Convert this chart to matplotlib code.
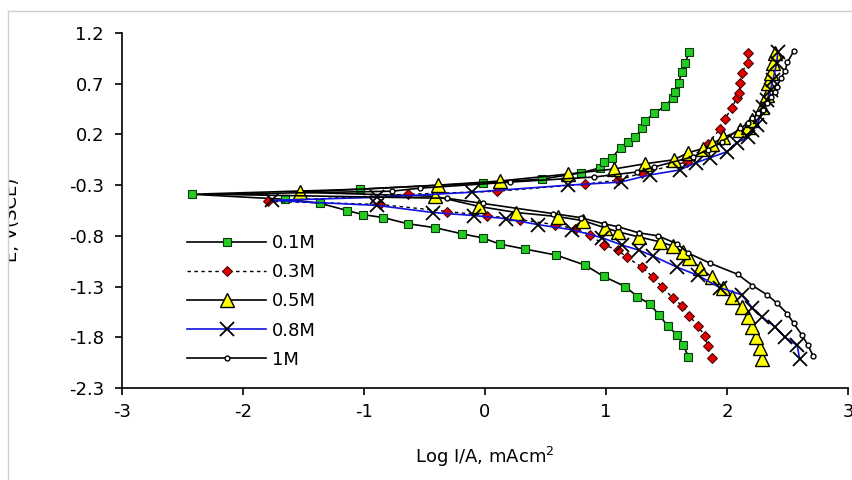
import matplotlib
matplotlib.use("Agg")
import matplotlib.pyplot as plt
from matplotlib.lines import Line2D
from matplotlib.patches import Rectangle

plt.rcParams['font.family'] = ['DejaVu Sans']

labels = ["0.1M", "0.3M", "0.5M", "0.8M", "1M"]

# each series: cathodic branch (bottom -> Ecorr) followed by anodic branch (Ecorr -> top)
x_01 = [1.68, 1.64, 1.59, 1.51, 1.44, 1.36, 1.26, 1.16, 0.98, 0.83, 0.59, 0.33, 0.12, -0.02, -0.19,
        -0.41, -0.64, -0.84, -1.01, -1.14, -1.36, -1.65, -2.42,
        -1.03, -0.02, 0.47, 0.79, 0.95, 0.98, 1.05, 1.12, 1.18, 1.24, 1.30, 1.32, 1.40, 1.49, 1.55,
        1.57, 1.60, 1.63, 1.65, 1.69]
y_01 = [-1.99, -1.88, -1.78, -1.69, -1.58, -1.47, -1.40, -1.30, -1.20, -1.09, -0.99, -0.93, -0.88, -0.82, -0.78,
        -0.72, -0.68, -0.62, -0.59, -0.55, -0.48, -0.44, -0.39,
        -0.34, -0.28, -0.24, -0.18, -0.13, -0.07, -0.03, 0.07, 0.13, 0.17, 0.26, 0.33, 0.41, 0.48, 0.56,
        0.62, 0.71, 0.82, 0.90, 1.01]

x_03 = [1.88, 1.84, 1.82, 1.76, 1.69, 1.63, 1.55, 1.46, 1.39, 1.30, 1.17, 1.10, 0.98, 0.87, 0.74,
        0.58, 0.29, 0.02, -0.31, -0.87, -1.79,
        -0.64, 0.10, 0.83, 1.10, 1.30, 1.67, 1.84, 1.94, 1.98, 2.04, 2.08, 2.10, 2.11, 2.12, 2.17, 2.17]
y_03 = [-2.00, -1.89, -1.79, -1.69, -1.59, -1.49, -1.41, -1.30, -1.21, -1.11, -1.01, -0.94, -0.89, -0.79, -0.73,
        -0.69, -0.64, -0.60, -0.56, -0.49, -0.46,
        -0.39, -0.36, -0.29, -0.25, -0.18, -0.07, 0.11, 0.25, 0.35, 0.46, 0.56, 0.61, 0.71, 0.81, 0.90, 1.00]

x_05 = [2.29, 2.27, 2.24, 2.21, 2.17, 2.12, 2.04, 1.97, 1.88, 1.78, 1.69, 1.64, 1.55, 1.45, 1.27,
        1.10, 0.99, 0.81, 0.60, 0.26, -0.05, -0.41, -1.53,
        -0.39, 0.12, 0.69, 1.07, 1.32, 1.56, 1.68, 1.80, 1.88, 1.97, 2.11, 2.17, 2.21, 2.29, 2.33,
        2.34, 2.36, 2.38, 2.40]
y_05 = [-2.01, -1.91, -1.80, -1.70, -1.60, -1.50, -1.40, -1.31, -1.21, -1.12, -1.02, -0.96, -0.90, -0.86, -0.81,
        -0.76, -0.72, -0.65, -0.61, -0.57, -0.51, -0.41, -0.37,
        -0.30, -0.26, -0.19, -0.14, -0.09, -0.05, 0.02, 0.06, 0.11, 0.17, 0.24, 0.27, 0.34, 0.47, 0.59,
        0.71, 0.81, 0.90, 1.00]

x_08 = [2.60, 2.58, 2.48, 2.40, 2.29, 2.21, 2.12, 1.94, 1.76, 1.59, 1.39, 1.27, 1.13, 0.97, 0.72,
        0.44, 0.17, -0.09, -0.43, -0.89, -1.76,
        -0.89, -0.11, 0.69, 1.12, 1.36, 1.61, 1.74, 1.86, 2.00, 2.08, 2.17, 2.21, 2.25, 2.27, 2.30,
        2.33, 2.36, 2.38, 2.41, 2.42]
y_08 = [-2.01, -1.88, -1.80, -1.70, -1.60, -1.51, -1.38, -1.31, -1.19, -1.11, -1.00, -0.94, -0.89, -0.82, -0.74,
        -0.69, -0.63, -0.60, -0.57, -0.50, -0.45,
        -0.42, -0.37, -0.30, -0.27, -0.20, -0.15, -0.08, -0.03, 0.03, 0.12, 0.17, 0.24, 0.29, 0.37, 0.47,
        0.54, 0.64, 0.74, 0.90, 1.01]

x_1 = [2.71, 2.67, 2.62, 2.55, 2.50, 2.41, 2.33, 2.21, 2.09, 1.86, 1.68, 1.59, 1.43, 1.27, 1.10,
       0.98, 0.79, 0.56, -0.02, -0.31, -2.25,
       -0.77, -0.54, 0.21, 0.90, 1.26, 1.40, 1.72, 1.84, 1.96, 2.11, 2.17, 2.21, 2.26, 2.30, 2.33,
       2.36, 2.40, 2.41, 2.45, 2.48, 2.50, 2.55]
y_1 = [-1.98, -1.88, -1.78, -1.66, -1.57, -1.46, -1.38, -1.29, -1.18, -1.07, -0.97, -0.88, -0.80, -0.77, -0.71,
       -0.68, -0.62, -0.58, -0.48, -0.43, -0.39,
       -0.36, -0.33, -0.27, -0.22, -0.17, -0.12, -0.02, 0.05, 0.13, 0.26, 0.31, 0.36, 0.41, 0.44, 0.51,
       0.57, 0.62, 0.67, 0.76, 0.83, 0.91, 1.02]

x_ticks = [-3, -2, -1, 0, 1, 2, 3]
y_ticks = [1.2, 0.7, 0.2, -0.3, -0.8, -1.3, -1.8, -2.3]

W, H = 853, 480
FS = 13
fig = plt.figure(figsize=(W / 100, H / 100), dpi=100)
fig.patch.set_facecolor('white')
ax = fig.add_axes([122 / W, 1 - 388 / H, (848 - 122) / W, (388 - 33) / H])

ax.plot(x_01, y_01, color='black', lw=1.2, marker='s', ms=5.5, mfc='#22cc22', mec='#0a3a0a', mew=0.8,
        label=labels[0], zorder=3)
ax.plot(x_03, y_03, color='black', lw=1.0, ls=(0, (2.5, 2.5)), marker='D', ms=5.5, mfc='#e00000',
        mec='#3a0000', mew=0.7, label=labels[1], zorder=3)
ax.plot(x_05, y_05, color='black', lw=1.2, marker='^', ms=9.5, mfc='#ffff00', mec='black', mew=1.0,
        label=labels[2], zorder=3)
ax.plot(x_08, y_08, color='#1010e0', lw=1.2, marker='x', ms=9.5, mec='black', mew=1.3,
        label=labels[3], zorder=3)
ax.plot(x_1, y_1, color='black', lw=1.2, marker='o', ms=3.5, mfc='white', mec='black', mew=1.0,
        markevery=[i for i in range(len(x_1)) if i != 20], label=labels[4], zorder=3)

ax.set_xlim(-3, 3)
ax.set_ylim(-2.3, 1.2)
ax.set_xticks(x_ticks)
ax.set_yticks(y_ticks)
ax.set_xticklabels([str(v) for v in x_ticks])
ax.set_yticklabels([f"{v:.1f}" for v in y_ticks])
ax.spines['top'].set_visible(False)
ax.spines['right'].set_visible(False)
for s in ['left', 'bottom']:
    ax.spines[s].set_linewidth(1.2)
    ax.spines[s].set_color('black')
ax.tick_params(axis='both', direction='out', length=5, width=1.2, labelsize=FS, colors='black')
ax.tick_params(axis='y', pad=8)
ax.tick_params(axis='x', pad=6)

ax.set_xlabel("Log I/A, mAcm$^{2}$", fontsize=FS, labelpad=17)

fig.text(21 / W, 1 - 178 / H, "E, V(SCE)", rotation=90, ha='right', va='top', fontsize=FS)

leg = ax.legend(loc='upper left', bbox_to_anchor=((187 - 122) / (848 - 122), (388 - 234) / (388 - 33)),
                frameon=False, fontsize=FS, numpoints=1, handlelength=4.4, handletextpad=0.28,
                labelspacing=0.62, borderaxespad=0, borderpad=0)

# outer frame (image crop border)
fig.patches.append(Rectangle((0, 0), 8 / W, 1, transform=fig.transFigure, facecolor='white',
                             edgecolor='none', zorder=10))
fig.lines.append(Line2D([8 / W, 8 / W], [0, 1 - 11 / H], transform=fig.transFigure, color='#d0d0d0',
                        lw=1.0, zorder=11))
fig.lines.append(Line2D([8 / W, 1], [1 - 11 / H, 1 - 11 / H], transform=fig.transFigure, color='#d0d0d0',
                        lw=1.0, zorder=11))

fig.savefig("out.png", dpi=100)
